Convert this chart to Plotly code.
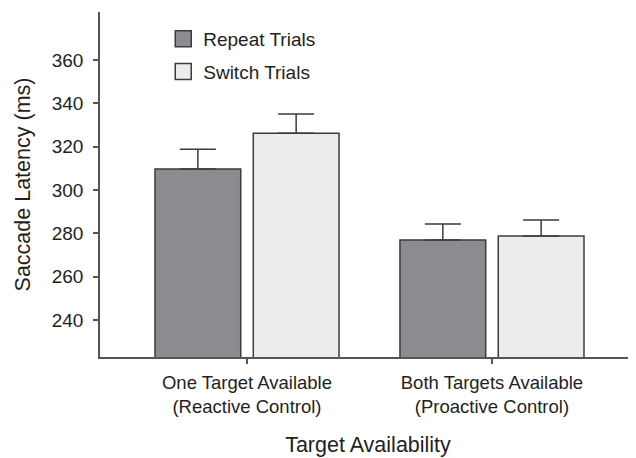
import plotly.graph_objects as go

# data
conditions = ["One Target Available<br>(Reactive Control)",
              "Both Targets Available<br>(Proactive Control)"]
cond_pos = [0, 1]
repeat_means = [309.7, 276.9]
repeat_err = [9.1, 7.4]
switch_means = [326.2, 278.8]
switch_err = [8.9, 7.4]
y_ticks = [240, 260, 280, 300, 320, 340, 360]

FONT = "Liberation Sans, Arial, sans-serif"
INK = "#231f20"
EDGE = "#3c3c3c"
AXIS = "#555555"
DARK = "#8b8c8f"
LIGHT = "#ececec"

fig = go.Figure()

for name, means, err, color, off in [
    ("Repeat Trials", repeat_means, repeat_err, DARK, -0.3755),
    ("Switch Trials", switch_means, switch_err, LIGHT, 0.0257),
]:
    fig.add_trace(go.Bar(
        x=cond_pos, y=means, name=name, showlegend=False,
        width=0.35, offset=off,
        marker=dict(color=color, line=dict(color=EDGE, width=1.5)),
        error_y=dict(type="data", array=err, arrayminus=[0, 0],
                     symmetric=False, color=EDGE, thickness=1.5, width=18),
    ))
    # legend entry only (bigger square swatch like the original)
    fig.add_trace(go.Scatter(
        x=[None], y=[None], mode="markers", name=name, legendgroup=name,
        marker=dict(symbol="square", size=16, color=color,
                    line=dict(color=EDGE, width=1.5)),
    ))

# page body has an 8px margin, so the figure is shrunk/shifted to compensate
fig.update_layout(
    width=628, height=450,
    margin=dict(l=92, r=0, t=4, b=101),
    paper_bgcolor="white", plot_bgcolor="white",
    barmode="overlay",
    font=dict(family=FONT, size=19, color=INK),
    showlegend=True,
    legend=dict(x=0.118, y=0.977, xanchor="left", yanchor="top",
                bgcolor="rgba(0,0,0,0)", font=dict(size=19),
                tracegroupgap=5),
)

fig.update_xaxes(
    range=[-0.6, 1.588],
    tickvals=cond_pos, ticktext=conditions,
    tickfont=dict(size=18.5),
    showline=True, linecolor=AXIS, linewidth=1.5,
    ticks="outside", ticklen=5, tickcolor=AXIS, tickwidth=1.5,
    ticklabelstandoff=3,
    showgrid=False, zeroline=False, automargin=False,
    title=dict(text="Target Availability", standoff=21,
               font=dict(size=21.5)),
)
fig.update_yaxes(
    range=[222.9, 382.2],
    tickvals=y_ticks,
    showline=True, linecolor=AXIS, linewidth=1.5,
    ticks="outside", ticklen=5, tickcolor=AXIS, tickwidth=1.5,
    ticklabelstandoff=6,
    showgrid=False, zeroline=False, automargin=False,
    title=dict(text="Saccade Latency (ms)", standoff=15,
               font=dict(size=21.5)),
)

fig.write_html("out.html")
